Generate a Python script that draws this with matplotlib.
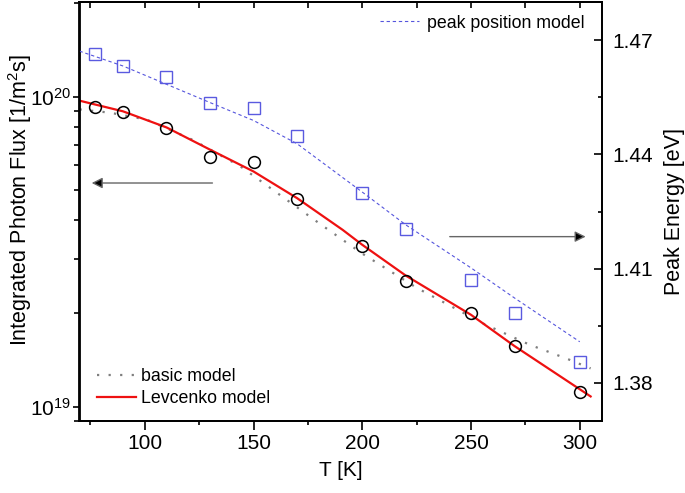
"""
Photon flux and peak energy vs temperature
"""

import matplotlib
matplotlib.use("Agg")
import matplotlib.pyplot as plt
from matplotlib.ticker import LogLocator, MultipleLocator, NullFormatter

plt.rcParams['font.family'] = ['Liberation Sans', 'DejaVu Sans']
plt.rcParams['mathtext.fontset'] = 'custom'
plt.rcParams['mathtext.rm'] = 'Liberation Sans'
plt.rcParams['mathtext.it'] = 'Liberation Sans:italic'

# measured points
T_meas = [77, 90, 110, 130, 150, 170, 200, 220, 250, 270, 300]
flux_meas = [9.24e19, 8.95e19, 7.9e19, 6.37e19, 6.16e19, 4.69e19,
             3.29e19, 2.54e19, 2.0e19, 1.57e19, 1.12e19]
energy_meas = [1.4663, 1.4632, 1.4602, 1.4535, 1.4521, 1.4448,
               1.4298, 1.4204, 1.4069, 1.3984, 1.3854]

# model curves
T_lev = [70, 90, 110, 130, 150, 170, 191, 200, 220, 250, 270, 305]
flux_lev = [9.71e19, 8.97e19, 7.96e19, 6.75e19, 5.74e19, 4.71e19, 3.72e19,
            3.33e19, 2.65e19, 1.98e19, 1.57e19, 1.08e19]

T_basic = [70, 84, 101, 122, 144, 162, 181, 200, 225, 256, 277, 294, 305]
flux_basic = [9.1e19, 8.88e19, 8.43e19, 7.26e19, 5.96e19, 4.83e19, 3.87e19,
              3.12e19, 2.42e19, 1.85e19, 1.585e19, 1.43e19, 1.33e19]

T_peak = [70, 90, 110, 130, 150, 170, 200, 220, 250, 270, 300]
energy_peak = [1.4671, 1.4632, 1.4584, 1.4536, 1.4489, 1.4428, 1.4301,
               1.4215, 1.4102, 1.4023, 1.3908]

fig = plt.figure(figsize=(6.85, 4.93), dpi=100)
ax = fig.add_axes([79.5 / 685, 1 - 421 / 493, 522 / 685, 419 / 493])
ax2 = ax.twinx()

ax.set_yscale('log')
basic, = ax.plot(T_basic, flux_basic, color='#7f7f7f', lw=1.6,
                 linestyle=(0, (1, 4.2)), label='basic model')
lev, = ax.plot(T_lev, flux_lev, color='#ee1111', lw=1.6, label='Levcenko model')
ax.plot(T_meas, flux_meas, 'o', mfc='none', mec='black', ms=8.5, mew=1.1)

peak, = ax2.plot(T_peak, energy_peak, color='#5555dd', lw=0.8,
                 linestyle=(0, (3, 2.5)), label='peak position model')
ax2.plot(T_meas, energy_meas, 's', mfc='none', mec='#5a5ae0', ms=8, mew=1.0)

ax.set_xlim(70, 310)
ax.set_ylim(9e18, 2.02e20)
ax2.set_ylim(1.37, 1.48)

ax.xaxis.set_major_locator(MultipleLocator(50))
ax.xaxis.set_minor_locator(MultipleLocator(25))
ax.yaxis.set_major_locator(LogLocator(base=10))
ax.yaxis.set_minor_locator(LogLocator(base=10, subs=range(2, 10)))
ax.yaxis.set_minor_formatter(NullFormatter())
ax2.yaxis.set_major_locator(MultipleLocator(0.03))
ax2.yaxis.set_minor_locator(MultipleLocator(0.015))
ax2.yaxis.set_major_formatter(plt.FormatStrFormatter('%.2f'))

ax.tick_params(axis='x', which='major', direction='out', length=6.2,
               width=1.2, labelsize=15, pad=3)
ax.tick_params(axis='x', which='minor', direction='out', length=3, width=1.2)
ax.tick_params(axis='y', which='major', direction='out', length=5.3,
               width=1.2, labelsize=15, pad=1)
ax.tick_params(axis='y', which='minor', direction='out', length=4, width=1.2)
ax2.tick_params(axis='y', which='major', direction='in', length=6,
                width=1.2, labelsize=15, pad=8)
ax2.tick_params(axis='y', which='minor', direction='in', length=3, width=1.2)

top = ax.secondary_xaxis('top')
top.xaxis.set_major_locator(MultipleLocator(25))
top.tick_params(direction='in', length=4, width=1.2, labeltop=False)

for a in (ax, ax2):
    for s in a.spines.values():
        s.set_linewidth(1.3)
top.spines['top'].set_linewidth(1.3)

ax.set_xlabel('T [K]', fontsize=15, labelpad=6)
ax.set_ylabel('Integrated Photon Flux [1/m$^2$s]', fontsize=15.5)
ax.yaxis.set_label_coords(-0.088, 0.527)
ax2.set_ylabel('Peak Energy [eV]', fontsize=15.5, labelpad=8)

ax.legend(handles=[basic, lev], loc='lower left', bbox_to_anchor=(0.033, 0.033),
          frameon=False, fontsize=12.8, handlelength=2.2, handletextpad=0.3,
          labelspacing=0.3, borderpad=0, borderaxespad=0)
ax2.legend(handles=[peak], loc='upper right', bbox_to_anchor=(0.967, 0.97),
           frameon=False, fontsize=12.8, handlelength=2.2, handletextpad=0.45,
           borderpad=0, borderaxespad=0)

arrow = dict(arrowstyle='-|>', color='#666666', fc='black', lw=1.0,
             mutation_scale=16)
ax.annotate('', xy=(0.018, 0.568), xytext=(0.26, 0.568),
            xycoords='axes fraction', arrowprops=arrow)
ax.annotate('', xy=(0.975, 0.44), xytext=(0.704, 0.44),
            xycoords='axes fraction', arrowprops=arrow)

fig.savefig('out.png', dpi=100)
